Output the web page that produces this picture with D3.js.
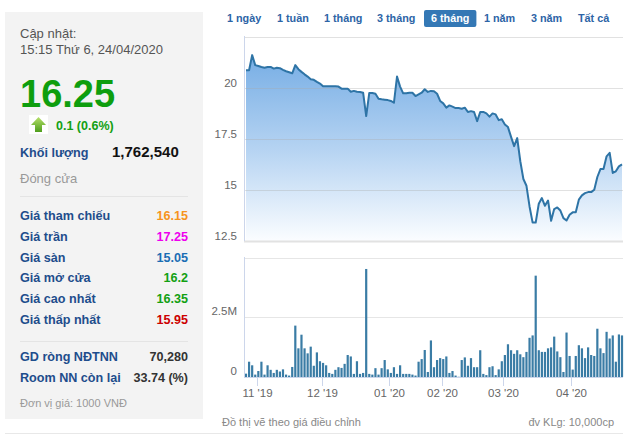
<!DOCTYPE html>
<html><head><meta charset="utf-8">
<script src="https://cdn.jsdelivr.net/npm/d3@7"></script>
<style>
html,body{margin:0;padding:0;background:#fff;}
svg{display:block;font-family:"Liberation Sans",Arial,sans-serif;}
</style></head>
<body><svg id="c" width="640" height="439"></svg>
<script>
// ---------- DATA ----------
const dates = [
"2019-10-28","2019-10-29","2019-10-30","2019-10-31",
"2019-11-01","2019-11-04","2019-11-05","2019-11-06","2019-11-07","2019-11-08","2019-11-11","2019-11-12","2019-11-13","2019-11-14","2019-11-15","2019-11-18","2019-11-19","2019-11-20","2019-11-21","2019-11-22","2019-11-25","2019-11-26","2019-11-27","2019-11-28","2019-11-29",
"2019-12-02","2019-12-03","2019-12-04","2019-12-05","2019-12-06","2019-12-09","2019-12-10","2019-12-11","2019-12-12","2019-12-13","2019-12-16","2019-12-17","2019-12-18","2019-12-19","2019-12-20","2019-12-23","2019-12-24","2019-12-25","2019-12-26","2019-12-27","2019-12-30","2019-12-31",
"2020-01-02","2020-01-03","2020-01-06","2020-01-07","2020-01-08","2020-01-09","2020-01-10","2020-01-13","2020-01-14","2020-01-15","2020-01-16","2020-01-17","2020-01-20","2020-01-21","2020-01-22","2020-01-30","2020-01-31",
"2020-02-03","2020-02-04","2020-02-05","2020-02-06","2020-02-07","2020-02-10","2020-02-11","2020-02-12","2020-02-13","2020-02-14","2020-02-17","2020-02-18","2020-02-19","2020-02-20","2020-02-21","2020-02-24","2020-02-25","2020-02-26","2020-02-27","2020-02-28",
"2020-03-02","2020-03-03","2020-03-04","2020-03-05","2020-03-06","2020-03-09","2020-03-10","2020-03-11","2020-03-12","2020-03-13","2020-03-16","2020-03-17","2020-03-18","2020-03-19","2020-03-20","2020-03-23","2020-03-24","2020-03-25","2020-03-26","2020-03-27","2020-03-30","2020-03-31",
"2020-04-01","2020-04-03","2020-04-06","2020-04-07","2020-04-08","2020-04-09","2020-04-10","2020-04-13","2020-04-14","2020-04-15","2020-04-16","2020-04-17","2020-04-20","2020-04-21","2020-04-22","2020-04-23","2020-04-24"
];
const prices = [
20.85,20.85,21.59,21.10,21.06,21.01,20.97,21.01,21.01,20.93,20.97,20.95,20.87,20.80,20.75,20.70,21.10,20.90,20.77,20.65,
20.54,20.41,20.38,20.28,20.20,20.07,20.07,20.07,20.07,20.07,20.05,19.95,19.95,19.95,19.80,19.84,19.80,19.79,19.75,18.61,
19.74,19.74,19.70,19.46,19.43,19.41,19.39,19.35,19.26,20.54,20.05,19.72,19.72,19.75,19.75,19.59,19.67,19.75,19.92,19.79,
19.84,19.82,19.70,19.35,19.23,19.02,19.13,19.07,19.00,19.00,18.97,19.02,18.81,18.85,18.81,18.36,18.81,18.81,18.74,18.58,
18.74,18.69,18.41,18.45,18.20,18.07,17.59,17.14,17.53,16.40,15.53,15.20,14.19,13.40,13.40,14.32,14.60,14.22,14.48,13.49,
14.06,14.14,13.99,13.62,13.50,13.78,13.90,13.91,14.52,14.73,14.84,14.89,14.89,15.01,15.63,16.02,16.02,16.64,16.81,15.83,
15.91,16.15,16.25
];
// volume in millions of shares
const volumes = [
0.14,0.64,0.49,0.10,0.25,0.64,0.10,0.49,0.30,0.17,0.30,0.23,0.32,0.10,0.06,0.42,2.15,1.20,1.77,1.20,
0.99,1.27,0.47,1.03,0.66,0.59,0.49,0.17,0.13,0.30,0.41,0.38,0.55,0.92,0.86,0.13,0.66,0.13,0.17,4.52,
0.13,0.10,0.37,0.10,0.37,0.71,0.32,0.17,0.41,0.13,0.49,0.13,0.13,0.13,0.10,0.06,0.64,0.75,1.13,0.21,
1.53,0.41,0.71,0.79,0.75,0.86,0.17,0.25,0.06,0.01,0.71,0.82,0.47,0.79,0.41,0.41,1.12,0.13,0.08,0.41,
0.45,0.08,0.32,0.66,0.92,1.37,1.12,0.97,1.12,0.95,0.83,1.05,1.64,1.74,4.24,1.12,1.05,1.05,1.20,1.24,
1.69,1.07,0.83,0.21,1.86,0.88,0.31,0.88,1.33,1.20,0.79,1.24,0.92,0.88,2.02,1.20,1.00,1.89,1.61,1.74,
0.64,1.78,1.74
];
const monthTickDates = ["2019-11-01","2019-12-02","2020-01-02","2020-02-03","2020-03-02","2020-04-01"];
const monthTickLabels = ["11 '19","12 '19","01 '20","02 '20","03 '20","04 '20"];
const priceTicks = [12.5, 15, 17.5, 20];
const priceGrid = [12.5, 15, 17.5, 20, 22.5];
const volTicks = [0, 2.5];
const volTickLabels = ["0", "2.5M"];
const volGrid = [2.5, 5];
const tabs = ["1 ngày","1 tuần","1 tháng","3 tháng","6 tháng","1 năm","3 năm","Tất cả"];
const activeTab = "6 tháng";
const infoRows = [
  {label:"Giá tham chiếu", value:"16.15", color:"#f7941d"},
  {label:"Giá trần", value:"17.25", color:"#ee00ee"},
  {label:"Giá sàn", value:"15.05", color:"#1a6db4"},
  {label:"Giá mở cửa", value:"16.2", color:"#12a012"},
  {label:"Giá cao nhất", value:"16.35", color:"#12a012"},
  {label:"Giá thấp nhất", value:"15.95", color:"#cc0000"}
];
const foreignRows = [
  {label:"GD ròng NĐTNN", value:"70,280"},
  {label:"Room NN còn lại", value:"33.74 (%)"}
];

// ---------- DRAW ----------
const svg = d3.select("#c");
const defs = svg.append("defs");
const labelBlue = "#1e4d8c";
const fs = 12.6;

// Left info panel
const L = svg.append("g");
L.append("rect").attr("x",5).attr("y",12).attr("width",198).attr("height",407).attr("fill","#f3f3f3");
L.append("text").attr("x",20).attr("y",38).attr("font-size",13).attr("fill","#555").text("Cập nhật:");
L.append("text").attr("x",20).attr("y",54).attr("font-size",13).attr("fill","#555").text("15:15 Thứ 6, 24/04/2020");
L.append("text").attr("x",20).attr("y",107).attr("font-size",38).attr("font-weight","bold").attr("fill","#0e9e0e").text("16.25");
// arrow icon
const ag = defs.append("linearGradient").attr("id","ag").attr("x1",0).attr("y1",0).attr("x2",0).attr("y2",1);
ag.append("stop").attr("offset","0").attr("stop-color","#b6e06a");
ag.append("stop").attr("offset","1").attr("stop-color","#4e9e1c");
L.append("rect").attr("x",29).attr("y",115).attr("width",19).attr("height",19).attr("fill","#fff");
L.append("path").attr("d","M38.5,117 L46,125 L42,125 L42,132 L35,132 L35,125 L31,125 Z").attr("fill","url(#ag)");
L.append("text").attr("x",56).attr("y",130).attr("font-size",12.5).attr("font-weight","bold").attr("fill","#12a012").text("0.1 (0.6%)");
L.append("text").attr("x",20).attr("y",157).attr("font-size",fs).attr("font-weight","bold").attr("fill",labelBlue).text("Khối lượng");
L.append("text").attr("x",112).attr("y",157).attr("font-size",15).attr("font-weight","bold").attr("fill","#111").text("1,762,540");
L.append("text").attr("x",20).attr("y",183).attr("font-size",13).attr("fill","#999").text("Đóng cửa");
L.append("line").attr("x1",20).attr("x2",188).attr("y1",196.5).attr("y2",196.5).attr("stroke","#e4e4e4");
infoRows.forEach((r,i)=>{
  const y = 220 + i*20.8;
  L.append("text").attr("x",20).attr("y",y).attr("font-size",fs).attr("font-weight","bold").attr("fill",labelBlue).text(r.label);
  L.append("text").attr("x",188).attr("y",y).attr("text-anchor","end").attr("font-size",fs).attr("font-weight","bold").attr("fill",r.color).text(r.value);
});
L.append("line").attr("x1",20).attr("x2",188).attr("y1",341.5).attr("y2",341.5).attr("stroke","#e4e4e4");
foreignRows.forEach((r,i)=>{
  const y = 361 + i*20.5;
  L.append("text").attr("x",20).attr("y",y).attr("font-size",fs).attr("font-weight","bold").attr("fill",labelBlue).text(r.label);
  L.append("text").attr("x",188).attr("y",y).attr("text-anchor","end").attr("font-size",fs).attr("font-weight","bold").attr("fill","#333").text(r.value);
});
L.append("text").attr("x",20).attr("y",407).attr("font-size",11).attr("fill","#999").text("Đơn vị giá: 1000 VNĐ");
svg.append("line").attr("x1",5).attr("x2",623).attr("y1",433.5).attr("y2",433.5).attr("stroke","#e8e8e8");

// Tabs
const tabX = [227,277,324,377,431,484,531,578];
const T = svg.append("g");
tabs.forEach((t,i)=>{
  const active = t===activeTab;
  const bg = active ? T.append("rect") : null;
  const tx = T.append("text").attr("x",tabX[i]).attr("y",22).attr("font-size",10.8).attr("font-weight","bold")
    .attr("fill", active?"#fff":"#2d64a6").text(t);
  if(active){
    const w = tx.node().getComputedTextLength();
    bg.attr("x",tabX[i]-7).attr("y",10).attr("width",w+14).attr("height",17).attr("rx",2).attr("fill","#3478b5");
  }
});

// Scales
const x = d3.scaleBand().domain(dates).range([244.46, 623.54]).padding(0);
const cx = d => x(d) + x.bandwidth()/2;
const yP = d3.scaleLinear().domain([12.5, 22.5]).range([241, 36.5]);
const yV = d3.scaleLinear().domain([0, 5]).range([377, 257.5]);
const plotL = 244, plotR = 623;

// Price chart
const pg = defs.append("linearGradient").attr("id","pg").attr("gradientUnits","userSpaceOnUse")
  .attr("x1",0).attr("y1",yP(22.5)).attr("x2",0).attr("y2",yP(12.5));
pg.append("stop").attr("offset","0").attr("stop-color","#6aa6e2");
pg.append("stop").attr("offset","0.55").attr("stop-color","#b5d3f2");
pg.append("stop").attr("offset","1").attr("stop-color","#fbfdff");
const pdata = dates.map((d,i)=>({d, p:prices[i], v:volumes[i]}));
svg.append("path").datum(pdata)
  .attr("d", d3.area().x(e=>cx(e.d)).y0(yP(12.5)).y1(e=>yP(e.p)))
  .attr("fill","url(#pg)");
svg.append("g").selectAll("line").data(priceGrid).join("line")
  .attr("x1",plotL).attr("x2",plotR).attr("y1",d=>Math.round(yP(d))+0.5).attr("y2",d=>Math.round(yP(d))+0.5)
  .attr("stroke", d=> d===12.5 ? "#e2e2e2" : "rgba(170,170,170,0.35)").attr("stroke-width", d=> d===12.5?2:1);
svg.append("path").datum(pdata)
  .attr("d", d3.line().x(e=>cx(e.d)).y(e=>yP(e.p)))
  .attr("fill","none").attr("stroke","#2e74a6").attr("stroke-width",2).attr("stroke-linejoin","round");
svg.append("line").attr("x1",plotL+0.5).attr("x2",plotL+0.5).attr("y1",36).attr("y2",241).attr("stroke","#ccd6eb");
const pAxis = d3.axisLeft(yP).tickValues(priceTicks).tickSize(0).tickPadding(7).tickFormat(d=>String(d));
const pa = svg.append("g").attr("transform",`translate(${plotL},0)`).call(pAxis);
pa.select(".domain").remove();
pa.selectAll("text").attr("font-size",11.5).attr("fill","#666").attr("font-family","Liberation Sans, Arial").attr("dy","-0.1em");

// Volume chart
svg.append("g").selectAll("line").data(volGrid).join("line")
  .attr("x1",plotL).attr("x2",plotR).attr("y1",d=>Math.round(yV(d))+0.5).attr("y2",d=>Math.round(yV(d))+0.5)
  .attr("stroke","#e6e6e6");
svg.append("g").selectAll("rect").data(pdata).join("rect")
  .attr("x", e=>cx(e.d)-1.1).attr("width",2.2)
  .attr("y", e=>yV(e.v)).attr("height", e=>yV(0)-yV(e.v))
  .attr("fill","#3a7ca5");
svg.append("line").attr("x1",plotL+0.5).attr("x2",plotL+0.5).attr("y1",257).attr("y2",377).attr("stroke","#ccd6eb");
svg.append("line").attr("x1",plotL).attr("x2",plotR).attr("y1",377.5).attr("y2",377.5).attr("stroke","#ccd6eb");
const vAxis = d3.axisLeft(yV).tickValues(volTicks).tickSize(0).tickPadding(7).tickFormat((d,i)=>volTickLabels[i]);
const va = svg.append("g").attr("transform",`translate(${plotL},0)`).call(vAxis);
va.select(".domain").remove();
va.selectAll("text").attr("font-size",11.5).attr("fill","#666").attr("font-family","Liberation Sans, Arial").attr("dy","-0.2em");

// X axis with month ticks
const xa = svg.append("g");
monthTickDates.forEach((d,i)=>{
  const tx = Math.round(x(d))+0.5;
  xa.append("line").attr("x1",tx).attr("x2",tx).attr("y1",377).attr("y2",386).attr("stroke","#ccd6eb");
  xa.append("text").attr("x",tx).attr("y",397).attr("text-anchor","middle").attr("font-size",11.5).attr("fill","#666").text(monthTickLabels[i]);
});

svg.append("text").attr("x",222).attr("y",426).attr("font-size",11).attr("fill","#888").text("Đồ thị vẽ theo giá điều chỉnh");
svg.append("text").attr("x",614).attr("y",426).attr("text-anchor","end").attr("font-size",11).attr("fill","#888").text("đv KLg: 10,000cp");
</script></body></html>
